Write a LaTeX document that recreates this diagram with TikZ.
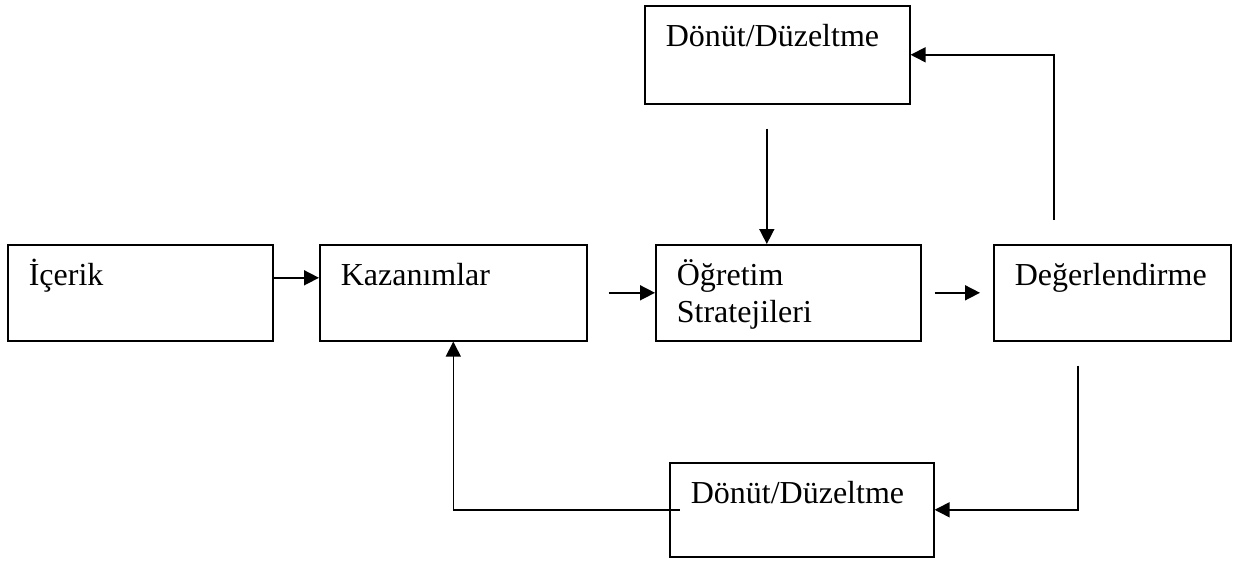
\documentclass[tikz,border=0pt]{standalone}
\usepackage{fontspec}
\setmainfont{Liberation Serif}
\usetikzlibrary{arrows,arrows.meta}

\begin{document}
\begin{tikzpicture}[x=0.5pt,y=-0.5pt,
		box/.style={draw,line width=0.8pt,anchor=north west,inner xsep=10.5pt,inner ysep=0pt,
			align=left,text height=20.5pt,font=\fontsize{16pt}{18.5pt}\selectfont},
		flow/.style={line width=0.8pt,-{Triangle[length=7.5pt,width=7.5pt]}}]
		\useasboundingbox (0,0) rectangle (1234,561);
		% main row
		\node[box,text width=111.5pt,text depth=27.5pt] (I) at (7,244) {İçerik};
		\node[box,text width=112.5pt,text depth=27.5pt] (K) at (319,244) {Kazanımlar};
		\node[box,text width=111.5pt,text depth=27.5pt] (O) at (655,244) {Öğretim\\Stratejileri};
		\node[box,text width=97.5pt,text depth=27.5pt] (D) at (993,244) {Değerlendirme};
		% feedback
		\node[box,text width=111.5pt,text depth=28.5pt] (F) at (644,5) {Dönüt/Düzeltme};
		\node[box,text width=111pt,text depth=26.5pt] (G) at (669,462) {Dönüt/Düzeltme};
		\coordinate (d1) at ([shift={(-29.25pt,12pt)}]D.north);
		\coordinate (d2) at ([shift={(-17.25pt,-12pt)}]D.south);
		\coordinate (f1) at ([shift={(-5.25pt,-12pt)}]F.south);
		\draw[flow] ([yshift=7.5pt]I.east) -- ([yshift=7.5pt]K.west);
		\draw[flow] ([xshift=10.5pt]K.east) -- (O.west);
		\draw[flow] ([xshift=6.5pt]O.east) -- ([xshift=-6.5pt]D.west);
		\draw[flow] (d1) |- (F.east);
		\draw[flow] (f1) -- (f1 |- O.north);
		\draw[flow] (d2) |- (G.east);
		\draw[flow] ([xshift=5.5pt]G.west) -| (K.south);
	\end{tikzpicture}
\end{document}
